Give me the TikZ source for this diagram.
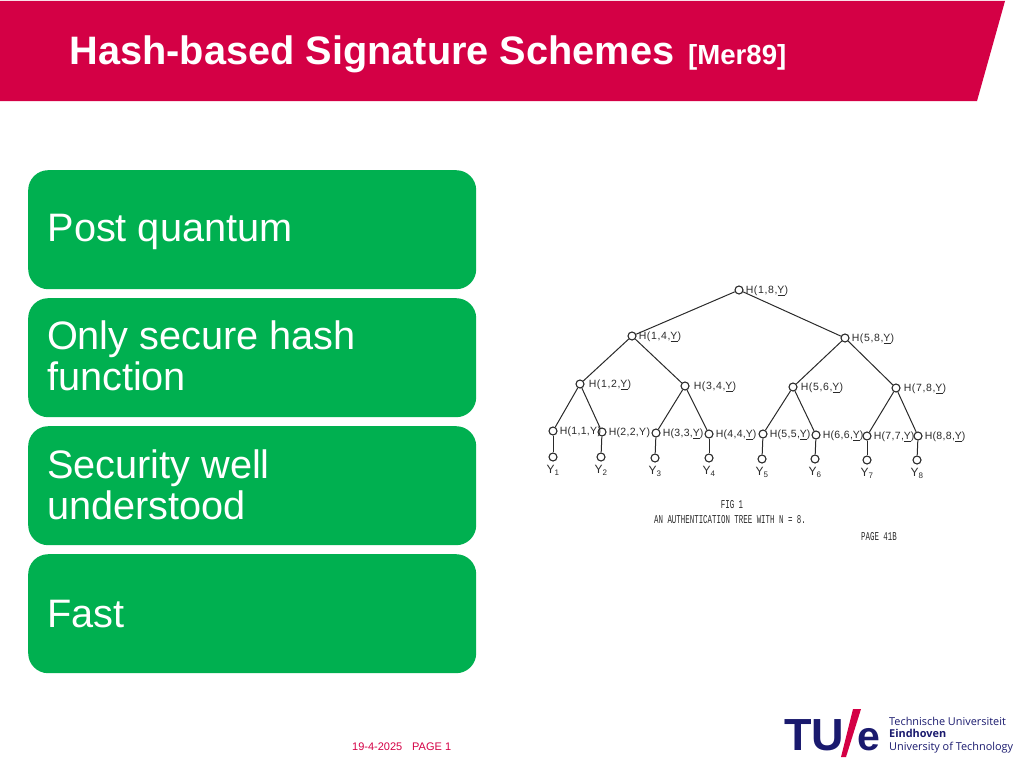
\documentclass[tikz,border=0pt]{standalone}
\usepackage{fontspec}
\setmainfont{Liberation Sans}
\newfontfamily\logofont{Open Sans}
\newfontfamily\wideupper[LetterSpace=6]{Liberation Sans}
\newfontfamily\widelower[LetterSpace=3]{Liberation Sans}
\newfontfamily\typewriter[FakeStretch=0.62]{Liberation Mono}
\usetikzlibrary{positioning}
\definecolor{slidered}{HTML}{D40045}
\definecolor{boxgreen}{HTML}{00B050}
\definecolor{tuenavy}{HTML}{1A1A6E}
\definecolor{scanink}{HTML}{2A2A2A}

\begin{document}
\begin{tikzpicture}
  [x=1pt,y=-1pt]
      \tikzstyle{edge_style} = [draw=scanink, line width=1]
      \tikzstyle{tree_node} = [circle, draw=scanink, fill=white, line width=1.1, minimum size=8, inner sep=0]
      \tikzstyle{hash_upper} = [inner sep=0, yshift=-1.2pt, text=scanink, font=\wideupper\fontsize{10.5}{12}\selectfont]
      \tikzstyle{hash_lower} = [inner sep=0, yshift=-1.2pt, text=scanink, font=\widelower\fontsize{10.5}{12}\selectfont]
      \tikzstyle{leaf_label} = [inner sep=0, text=scanink, font=\fontsize{12}{13}\selectfont]
      \tikzstyle{scan_text} = [inner sep=0, text=scanink, font=\typewriter\fontsize{12}{13}\selectfont]
      \tikzstyle{green_box} = [anchor=north west, fill=boxgreen, rounded corners=20, minimum width=448, minimum height=119]
      \tikzstyle{box_text} = [anchor=west, align=left, text=white, font=\fontsize{39.7}{41}\selectfont]
      \tikzstyle{foot_text} = [anchor=base west, inner sep=0, text=slidered, font=\fontsize{11}{12}\selectfont]
      \tikzstyle{logo_big} = [anchor=base west, inner sep=0, text=tuenavy, font=\bfseries\fontsize{45}{50}\selectfont]
      \tikzstyle{logo_text} = [anchor=base west, inner sep=0, text height=8, text depth=2.500, text=tuenavy, font=\logofont\fontsize{10.9}{12}\selectfont]
  \useasboundingbox (0,0) rectangle (1024,768);
  % header band
  \fill[slidered] (0,1) -- (1005,1) -- (977,101) -- (0,101) -- cycle;
  \node[anchor=base west, inner sep=0, text=white, font=\bfseries\fontsize{39.7}{42}\selectfont] (title) at (69.500,64) {Hash-based Signature Schemes};
  \node[anchor=base west, inner sep=0, text=white, font=\bfseries\fontsize{27.6}{30}\selectfont] (cite) at (688,64) {[Mer89]};
  % left column
  \node[green_box] (box1) at (28,170) {};
  \node[green_box] (box2) at (28,298) {};
  \node[green_box] (box3) at (28,426) {};
  \node[green_box] (box4) at (28,554) {};
  \node[box_text] (text1) at (44,232) {Post quantum};
  \node[box_text] (text2) at (43.500,356) {Only secure hash\\function};
  \node[box_text] (text3) at (43.500,484.500) {Security well\\understood};
  \node[box_text] (text4) at (44,614) {Fast};
  % tree
  \node[tree_node] (n18) at (739,290) {};
  \node[tree_node] (n14) at (632,336) {};
  \node[tree_node] (n58) at (845,338) {};
  \node[tree_node] (n12) at (580,384) {};
  \node[tree_node] (n34) at (685,386) {};
  \node[tree_node] (n56) at (793,387) {};
  \node[tree_node] (n78) at (896,388) {};
  \node[tree_node] (n11) at (553,431) {};
  \node[tree_node] (n22) at (602,432) {};
  \node[tree_node] (n33) at (656,433) {};
  \node[tree_node] (n44) at (709,434) {};
  \node[tree_node] (n55) at (763,434) {};
  \node[tree_node] (n66) at (816,435) {};
  \node[tree_node] (n77) at (867,436) {};
  \node[tree_node] (n88) at (918,436) {};
  \node[tree_node] (y1) at (553,457) {};
  \node[tree_node] (y2) at (601,457) {};
  \node[tree_node] (y3) at (655,458) {};
  \node[tree_node] (y4) at (709,458) {};
  \node[tree_node] (y5) at (762,459) {};
  \node[tree_node] (y6) at (815,459) {};
  \node[tree_node] (y7) at (867,460) {};
  \node[tree_node] (y8) at (917,460) {};
  \draw[edge_style] (n18) -- (n14);
  \draw[edge_style] (n18) -- (n58);
  \draw[edge_style] (n14) -- (n12);
  \draw[edge_style] (n14) -- (n34);
  \draw[edge_style] (n58) -- (n56);
  \draw[edge_style] (n58) -- (n78);
  \draw[edge_style] (n12) -- (n11);
  \draw[edge_style] (n12) -- (n22);
  \draw[edge_style] (n34) -- (n33);
  \draw[edge_style] (n34) -- (n44);
  \draw[edge_style] (n56) -- (n55);
  \draw[edge_style] (n56) -- (n66);
  \draw[edge_style] (n78) -- (n77);
  \draw[edge_style] (n78) -- (n88);
  \draw[edge_style] (n11) -- (y1);
  \draw[edge_style] (n22) -- (y2);
  \draw[edge_style] (n33) -- (y3);
  \draw[edge_style] (n44) -- (y4);
  \draw[edge_style] (n55) -- (y5);
  \draw[edge_style] (n66) -- (y6);
  \draw[edge_style] (n77) -- (y7);
  \draw[edge_style] (n88) -- (y8);
  % hash labels
  \node[hash_upper, right=2pt of n18] (l18) {H(1,8,\underline{Y})};
  \node[hash_upper, right=2pt of n14] (l14) {H(1,4,\underline{Y})};
  \node[hash_upper, right=2pt of n58] (l58) {H(5,8,\underline{Y})};
  \node[hash_upper, right=4pt of n12] (l12) {H(1,2,\underline{Y})};
  \node[hash_upper, right=4pt of n34] (l34) {H(3,4,\underline{Y})};
  \node[hash_upper, right=3pt of n56] (l56) {H(5,6,\underline{Y})};
  \node[hash_upper, right=3pt of n78] (l78) {H(7,8,\underline{Y})};
  \node[hash_lower, right=2pt of n11] (l11) {H(1,1,Y)};
  \node[hash_lower, right=2pt of n22] (l22) {H(2,2,Y)};
  \node[hash_lower, right=2pt of n33] (l33) {H(3,3,\underline{Y})};
  \node[hash_lower, right=2pt of n44] (l44) {H(4,4,\underline{Y})};
  \node[hash_lower, right=2pt of n55] (l55) {H(5,5,\underline{Y})};
  \node[hash_lower, right=2pt of n66] (l66) {H(6,6,\underline{Y})};
  \node[hash_lower, right=2pt of n77] (l77) {H(7,7,\underline{Y})};
  \node[hash_lower, right=2pt of n88] (l88) {H(8,8,\underline{Y})};
  % leaf labels
  \node[leaf_label, below=3.500pt of y1] (ly1) {Y\textsubscript{1}};
  \node[leaf_label, below=3.500pt of y2] (ly2) {Y\textsubscript{2}};
  \node[leaf_label, below=3.500pt of y3] (ly3) {Y\textsubscript{3}};
  \node[leaf_label, below=3.500pt of y4] (ly4) {Y\textsubscript{4}};
  \node[leaf_label, below=3.500pt of y5] (ly5) {Y\textsubscript{5}};
  \node[leaf_label, below=3.500pt of y6] (ly6) {Y\textsubscript{6}};
  \node[leaf_label, below=3.500pt of y7] (ly7) {Y\textsubscript{7}};
  \node[leaf_label, below=3.500pt of y8] (ly8) {Y\textsubscript{8}};
  % caption of the scan
  \node[scan_text] (fig) at (732,505) {FIG 1};
  \node[scan_text] (cap) at (730,519.500) {AN AUTHENTICATION TREE WITH N = 8.};
  \node[scan_text] (page) at (879,537) {PAGE 41B};
  % footer
  \node[foot_text] (date) at (352,750) {19-4-2025};
  \node[foot_text] (pagenum) at (412,750) {PAGE 1};
  % logo
  \node[logo_big] (tu) at (784,750) {TU};
  \node[logo_big, font=\bfseries\fontsize{41}{50}\selectfont] (e) at (857,750) {e};
  \fill[slidered] (853,709) -- (861,709) -- (846,757) -- (841,757) -- cycle;
  \node[logo_text] (logo1) at (889,725) {Technische Universiteit};
  \node[logo_text] (logo2) at (889,737.500) {\bfseries Eindhoven};
  \node[logo_text] (logo3) at (889,750) {University of Technology};
\end{tikzpicture}
\end{document}
